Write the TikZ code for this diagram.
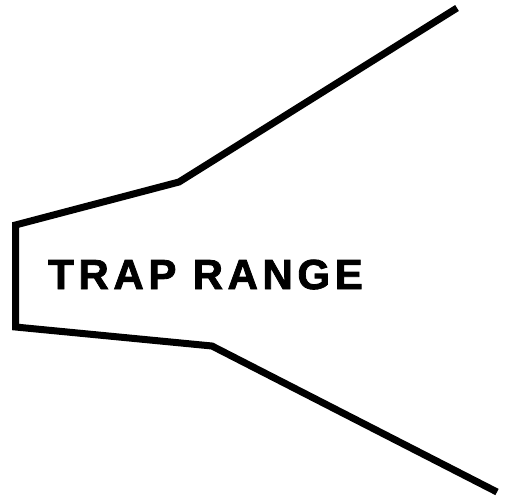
\documentclass[tikz,border=0pt]{standalone}
\usepackage{fontspec}
\newfontfamily\labelfont[LetterSpace=11,BoldFeatures={FakeBold=2}]{Liberation Sans}
\begin{document}
\begin{tikzpicture}[x=1pt,y=-1pt,
  trapline/.style={line width=7pt,line cap=butt,line join=miter,draw=black},
  traplabel/.style={font=\labelfont\bfseries\fontsize{42}{42}\selectfont,inner sep=0pt,anchor=base west}]
\useasboundingbox (0,0) rectangle (508,500);
\coordinate (p1) at (457,8);
\coordinate (p2) at (179,182);
\coordinate (p3) at (15.5,225);
\coordinate (p4) at (15.5,327);
\coordinate (p5) at (212,346);
\coordinate (p6) at (497,492);
\draw[trapline] (p1) -- (p2) -- (p3) -- (p4) -- (p5) -- (p6);
\node[traplabel] (lbl) at (48,289) {TRAP RANGE};
\end{tikzpicture}
\end{document}
